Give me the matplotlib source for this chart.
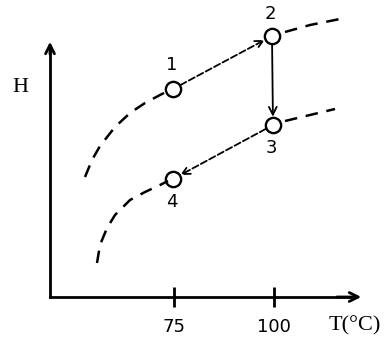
import matplotlib.pyplot as plt

# curve segments (T, H)
upper_left_T = [52.75, 54.5, 56.5, 60.25, 64, 67.75, 71.5, 74]
upper_left_H = [120, 137, 151, 170, 184, 194, 202, 207]
upper_right_T = [102.75, 109, 116.5]
upper_right_H = [265, 272, 278]
lower_left_T = [55.75, 56.5, 58.25, 60.25, 64, 67.75, 71.5, 73.5]
lower_left_H = [34, 52, 69, 82, 97, 105, 112, 116]
lower_right_T = [102.75, 109, 115.25]
lower_right_H = [176, 182, 188]

# state points 1..4
state_labels = ["1", "2", "3", "4"]
state_T = [74.75, 99.5, 99.75, 74.75]
state_H = [208, 261, 172, 118]
label_dy = [24, 22, -23, -23]

tick_T = [75, 100]
tick_labels = ["75", "100"]

fig = plt.figure(figsize=(3.9, 3.45), dpi=100)
ax = fig.add_axes([0, 0, 1, 1])
ax.set_xlim(31.5, 129)
ax.set_ylim(-48, 297)

dash = dict(color="black", lw=1.8, linestyle=(0, (5, 3.5)))
ax.plot(upper_left_T, upper_left_H, **dash)
ax.plot(upper_right_T, upper_right_H, **dash)
ax.plot(lower_left_T, lower_left_H, **dash)
ax.plot(lower_right_T, lower_right_H, **dash)

# process arrows 1->2, 2->3, 3->4
styles = ["--", "-", "--"]
for i in range(3):
    ax.annotate("", xy=(state_T[i + 1], state_H[i + 1]), xytext=(state_T[i], state_H[i]),
                arrowprops=dict(arrowstyle="->", color="black", lw=1.3, linestyle=styles[i],
                                shrinkA=6, shrinkB=6, mutation_scale=14))

ax.plot(state_T, state_H, "o", ms=11, mfc="none", mec="black", mew=1.7)
for lab, t, h, dy in zip(state_labels, state_T, state_H, label_dy):
    ax.text(t - 0.3, h + dy, lab, ha="center", va="center", fontsize=13)

# axes with arrow heads
for s in ["top", "right"]:
    ax.spines[s].set_visible(False)
ax.spines["left"].set_position(("data", 44))
ax.spines["bottom"].set_position(("data", 0))
ax.spines["left"].set_bounds(0, 250)
ax.spines["bottom"].set_bounds(44, 120)
ax.spines["left"].set_linewidth(2)
ax.spines["bottom"].set_linewidth(2)
ax.annotate("", xy=(44, 258), xytext=(44, 240),
            arrowprops=dict(arrowstyle="->", lw=2, color="black", mutation_scale=16))
ax.annotate("", xy=(122.5, 0), xytext=(115, 0),
            arrowprops=dict(arrowstyle="->", lw=2, color="black", mutation_scale=16))

ax.set_yticks([])
ax.set_xticks(tick_T)
ax.set_xticklabels(tick_labels, fontsize=13)
ax.tick_params(axis="x", direction="inout", length=14, width=2, pad=8)

ax.text(36.5, 209, "H", fontsize=16, family="Liberation Serif", ha="center", va="center")
ax.text(120.2, -29, "T(°C)", fontsize=16, family="Liberation Serif", ha="center", va="center")

fig.savefig("out.png", dpi=100, facecolor="white")
